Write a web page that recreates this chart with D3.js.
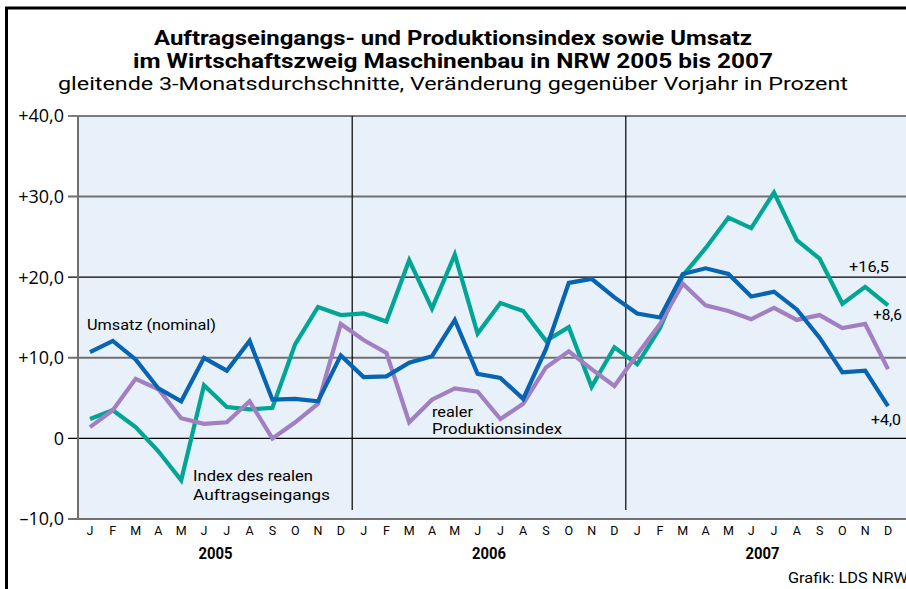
<!DOCTYPE html>
<html><head><meta charset="utf-8">
<script src="https://cdn.jsdelivr.net/npm/d3@7"></script>
<style>body{margin:0;background:#fff;}svg{display:block;}</style>
</head><body>
<svg id="c" width="906" height="589"></svg>
<script>
const years = ["2005","2006","2007"];
const monthLabels = ["J","F","M","A","M","J","J","A","S","O","N","D"];
const yTicks = [40,30,20,10,0,-10];
const yTickLabels = ["+40,0","+30,0","+20,0","+10,0","0","\u201310,0"];
// Index des realen Auftragseingangs
const auftrag = [2.4,3.5,1.4,-1.6,-5.2,6.6,3.9,3.6,3.8,11.7,16.3,15.3,
                 15.5,14.5,22.1,16.1,22.8,13.0,16.8,15.8,12.1,13.8,6.4,11.3,
                 9.2,13.7,20.2,23.6,27.4,26.1,30.5,24.6,22.3,16.7,18.8,16.5];
// realer Produktionsindex
const produktion = [1.4,3.5,7.4,6.1,2.5,1.8,2.0,4.6,0.0,2.0,4.3,14.2,
                    12.2,10.6,2.0,4.8,6.2,5.8,2.4,4.3,8.8,10.8,8.6,6.5,
                    10.4,14.2,19.2,16.5,15.8,14.8,16.2,14.7,15.3,13.7,14.2,8.6];
// Umsatz (nominal)
const umsatz = [10.7,12.1,9.8,6.2,4.6,10.0,8.4,12.1,4.8,4.9,4.6,10.3,
                7.6,7.7,9.4,10.2,14.7,8.0,7.5,4.9,11.1,19.3,19.8,17.5,
                15.5,15.0,20.4,21.1,20.4,17.6,18.2,16.0,12.5,8.2,8.4,4.0];
const endLabels = ["+16,5","+8,6","+4,0"];

const svg = d3.select("#c");
const periods = d3.range(years.length * monthLabels.length);
const x = d3.scaleBand().domain(periods).range([78.6, 899.4]);
const xc = i => x(i) + x.bandwidth()/2;
const y = d3.scaleLinear().domain([-10, 40]).range([519, 116]);

const sans = "'Open Sans','Noto Sans','DejaVu Sans',sans-serif";
const rob = "Roboto,'Liberation Sans',sans-serif";

// outer frame
svg.append("rect").attr("x",6.5).attr("y",8).attr("width",920).attr("height",600)
  .attr("fill","none").attr("stroke","#000").attr("stroke-width",3);

// titles
const titles = [
  {t:"Auftragseingangs- und Produktionsindex sowie Umsatz", y:45, w:"bold", s:19.5, len:598},
  {t:"im Wirtschaftszweig Maschinenbau in NRW 2005 bis 2007", y:68, w:"bold", s:19.5, len:640},
  {t:"gleitende 3-Monatsdurchschnitte, Veränderung gegenüber Vorjahr in Prozent", y:90, w:"normal", s:18.8, len:790}
];
titles.forEach(d => {
  svg.append("text").attr("x",453).attr("y",d.y).attr("text-anchor","middle")
    .attr("font-family",rob).attr("font-weight",d.w).attr("font-size",d.s)
    .attr("textLength",d.len).attr("lengthAdjust","spacingAndGlyphs")
    .attr("fill","#000").text(d.t);
});

// plot background
svg.append("rect").attr("x",78).attr("y",y(40)).attr("width",906-78).attr("height",y(-10)-y(40))
  .attr("fill","#e8f0fa");

// gridlines + y tick labels
yTicks.forEach((v,i) => {
  const major = (v % 20 === 0);
  svg.append("line").attr("x1",68).attr("x2",906).attr("y1",y(v)).attr("y2",y(v))
    .attr("stroke", major ? "#000" : "#707070").attr("stroke-width", major ? 1.2 : 2);
  svg.append("text").attr("x",64).attr("y",y(v)).attr("dy","0.36em").attr("text-anchor","end")
    .attr("font-family",sans).attr("font-size",18).attr("fill","#000").text(yTickLabels[i]);
});
// left plot border
svg.append("line").attr("x1",78).attr("x2",78).attr("y1",y(40)).attr("y2",y(-10))
  .attr("stroke","#707070").attr("stroke-width",2);
// year separators
for (let k = 1; k < years.length; k++) {
  const sx = x(k*12) - (x.step()-x.bandwidth())/2;
  svg.append("line").attr("x1",sx).attr("x2",sx).attr("y1",y(40)).attr("y2",510)
    .attr("stroke","#000").attr("stroke-width",1.2);
}

// month labels
periods.forEach(i => {
  svg.append("text").attr("x",xc(i)).attr("y",535).attr("text-anchor","middle")
    .attr("font-family",rob).attr("font-size",12.5).attr("fill","#000")
    .text(monthLabels[i % 12]);
});
years.forEach((yr,k) => {
  const cx = (xc(k*12) + xc(k*12+11))/2;
  svg.append("text").attr("x",cx).attr("y",559).attr("text-anchor","middle")
    .attr("font-family",rob).attr("font-weight","bold").attr("font-size",16)
    .attr("textLength",34).attr("lengthAdjust","spacingAndGlyphs").text(yr);
});

// lines
const line = d3.line().x((d,i) => xc(i)).y(d => y(d));
[[auftrag,"#00a593"],[produktion,"#a17fc1"],[umsatz,"#0764b2"]].forEach(([data,col]) => {
  svg.append("path").datum(data).attr("d",line).attr("fill","none")
    .attr("stroke",col).attr("stroke-width",4.2).attr("stroke-linejoin","miter");
});

// in-plot labels
const lab = (t,xx,yy,len,anchor) => svg.append("text").attr("x",xx).attr("y",yy)
  .attr("text-anchor",anchor||"start").attr("font-family",rob).attr("font-size",14.5)
  .attr("textLength",len).attr("lengthAdjust","spacingAndGlyphs")
  .attr("fill","#000").text(t);
lab("Umsatz (nominal)",87,330,129);
lab("Index des realen",193,481,120);
lab("Auftragseingangs",193,500,137);
lab("realer",432,417,41);
lab("Produktionsindex",432,434,130);
lab(endLabels[0], 889, 272, 40, "end");
lab(endLabels[1], 902, 320, 29, "end");
lab(endLabels[2], 901, 425, 30, "end");

// source
svg.append("text").attr("x",908).attr("y",583).attr("text-anchor","end")
  .attr("font-family",rob).attr("font-size",14.5).attr("textLength",120)
  .attr("lengthAdjust","spacingAndGlyphs").text("Grafik: LDS NRW");
</script>
</body></html>
